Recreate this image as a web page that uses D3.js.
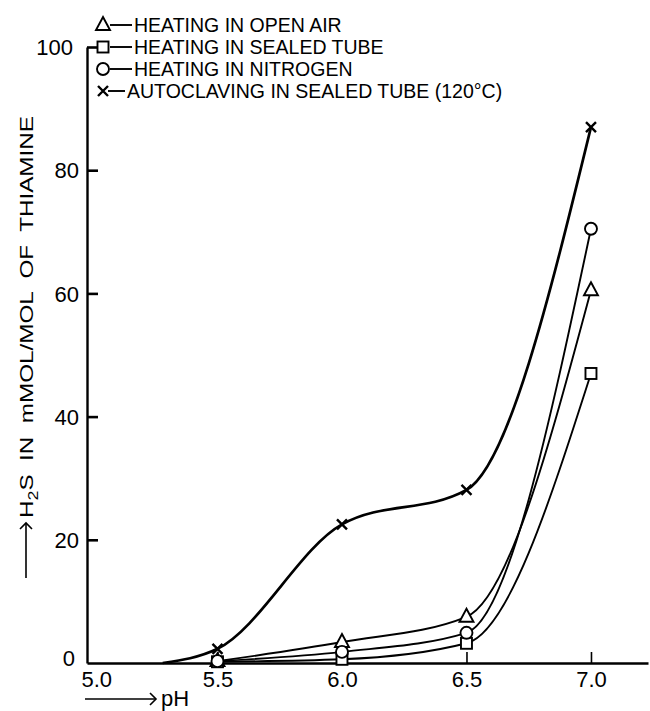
<!DOCTYPE html>
<html>
<head>
<meta charset="utf-8">
<script src="https://cdn.jsdelivr.net/npm/d3@7"></script>
<style>
  html, body { margin: 0; padding: 0; background: #fff; }
  svg { display: block; }
  text { font-family: "Liberation Sans", Arial, sans-serif; fill: #000; }
</style>
</head>
<body>
<div id="chart"></div>
<script>
// ---- data ----
const pH = [5.5, 6.0, 6.5, 7.0];
const openAir    = [0.3, 3.4, 7.5, 60.5];
const sealedTube = [0.2, 0.6, 3.2, 47.0];
const nitrogen   = [0.3, 1.8, 4.9, 70.5];
const autoclavePH = [5.28, 5.5, 6.0, 6.5, 7.0];
const autoclave   = [0.0, 2.3, 22.5, 28.1, 87.0];

const xTicks = [5.0, 5.5, 6.0, 6.5, 7.0];
const xTickLabels = ["5.0", "5.5", "6.0", "6.5", "7.0"];
const yTicks = [0, 20, 40, 60, 80, 100];
const yTickLabels = ["0", "20", "40", "60", "80", "100"];

const legendLabels = [
  "HEATING IN OPEN AIR",
  "HEATING IN SEALED TUBE",
  "HEATING IN NITROGEN",
  "AUTOCLAVING IN SEALED TUBE (120°C)"
];
const legendSymbols = ["triangle", "square", "circle", "cross"];

// ---- layout ----
const W = 650, H = 711;
const svg = d3.select("#chart").append("svg").attr("width", W).attr("height", H);

const axisX0 = 87, axisY0 = 663;
const x = d3.scaleLinear().domain([4.976, 7.229]).range([87, 648]);
const y = d3.scaleLinear().domain([0, 100]).range([663, 47]);

// ---- axes ----
const yAxis = d3.axisLeft(y)
  .tickValues(yTicks)
  .tickFormat((d, i) => yTickLabels[i])
  .tickSizeInner(-11).tickSizeOuter(0).tickPadding(8);
const gy = svg.append("g").attr("transform", `translate(${axisX0},0)`).call(yAxis);
gy.select(".domain").attr("stroke", "#000").attr("stroke-width", 2.4);
gy.selectAll(".tick line").attr("stroke", "#000").attr("stroke-width", 2.6)
  .style("display", d => d === 0 ? "none" : null);
gy.selectAll(".tick text").attr("font-size", 22).attr("font-family", "Liberation Sans, Arial, sans-serif")
  .attr("dy", d => d === 0 ? "0.1em" : "0.35em")
  .attr("x", d => d === 0 ? -12 : (d === 100 ? -14 : -8));

const xAxis = d3.axisBottom(x)
  .tickValues(xTicks)
  .tickFormat((d, i) => xTickLabels[i])
  .tickSizeInner(-11).tickSizeOuter(0).tickPadding(8);
const gx = svg.append("g").attr("transform", `translate(0,${axisY0})`).call(xAxis);
gx.select(".domain").attr("stroke", "#000").attr("stroke-width", 2.4);
gx.selectAll(".tick line").attr("stroke", "#000").attr("stroke-width", 1.6)
  .style("display", d => d === 5.0 ? "none" : null);
gx.selectAll(".tick text").attr("font-size", 22).attr("font-family", "Liberation Sans, Arial, sans-serif")
  .attr("dx", d => d === 5.0 ? "0.15em" : 0);

// ---- axis titles ----
function arrowHead(g, x0, y0, dir) {
  const s = 6;
  let p;
  if (dir === "right") p = `M${x0 - s},${y0 - s} L${x0},${y0} L${x0 - s},${y0 + s}`;
  else p = `M${x0 - s},${y0 + s} L${x0},${y0} L${x0 + s},${y0 + s}`;
  g.append("path").attr("d", p).attr("fill", "none").attr("stroke", "#000").attr("stroke-width", 1.6);
}
const tX = svg.append("g");
tX.append("line").attr("x1", 85).attr("x2", 155).attr("y1", 699).attr("y2", 699)
  .attr("stroke", "#000").attr("stroke-width", 1.6);
arrowHead(tX, 156, 699, "right");
tX.append("text").attr("x", 161).attr("y", 706).attr("font-size", 22).text("pH");

const tY = svg.append("g");
tY.append("line").attr("x1", 26).attr("x2", 26).attr("y1", 578).attr("y2", 524)
  .attr("stroke", "#000").attr("stroke-width", 1.6);
arrowHead(tY, 26, 523, "up");
const yt = tY.append("text")
  .attr("transform", "translate(33,518) rotate(-90)")
  .attr("font-size", 19)
  .style("white-space", "pre")
  .attr("textLength", 402).attr("lengthAdjust", "spacingAndGlyphs");
yt.append("tspan").text("H");
yt.append("tspan").attr("font-size", 14).attr("dy", 5).text("2");
yt.append("tspan").attr("dy", -5).text("S  IN  mMOL/MOL  OF  THIAMINE");

// ---- series ----
const series = [
  { name: legendLabels[0], sym: "triangle", xs: pH, ys: openAir, w: 1.9 },
  { name: legendLabels[1], sym: "square", xs: pH, ys: sealedTube, w: 1.9 },
  { name: legendLabels[2], sym: "circle", xs: pH, ys: nitrogen, w: 1.9 },
  { name: legendLabels[3], sym: "cross", xs: autoclavePH, ys: autoclave, w: 2.7 }
];

const line = d3.line().x(d => x(d[0])).y(d => y(d[1])).curve(d3.curveMonotoneX);

const gLines = svg.append("g");
series.forEach(s => {
  const pts = s.xs.map((v, i) => [v, s.ys[i]]);
  gLines.append("path").attr("d", line(pts)).attr("fill", "none")
    .attr("stroke", "#000").attr("stroke-width", s.w).attr("stroke-linejoin", "round");
});

function drawSymbol(g, sym, cx, cy) {
  if (sym === "triangle") {
    g.append("path").attr("d", `M${cx},${cy - 8} L${cx + 7},${cy + 5} L${cx - 7},${cy + 5} Z`)
      .attr("fill", "#fff").attr("stroke", "#000").attr("stroke-width", 1.9);
  } else if (sym === "square") {
    g.append("rect").attr("x", cx - 5.5).attr("y", cy - 5.5).attr("width", 11).attr("height", 11)
      .attr("fill", "#fff").attr("stroke", "#000").attr("stroke-width", 1.9);
  } else if (sym === "circle") {
    g.append("circle").attr("cx", cx).attr("cy", cy).attr("r", 6)
      .attr("fill", "#fff").attr("stroke", "#000").attr("stroke-width", 1.9);
  } else {
    g.append("path").attr("d", `M${cx - 5},${cy - 5} L${cx + 5},${cy + 5} M${cx - 5},${cy + 5} L${cx + 5},${cy - 5}`)
      .attr("stroke", "#000").attr("stroke-width", 2.4);
  }
}

const gMarks = svg.append("g");
series.forEach(s => {
  s.xs.forEach((v, i) => {
    if (pH.indexOf(v) < 0) return; // start point of curve has no marker
    drawSymbol(gMarks, s.sym, x(v), y(s.ys[i]));
  });
});

// ---- legend ----
const gL = svg.append("g");
legendLabels.forEach((lab, i) => {
  const cy = 25 + i * 22;
  const isCross = legendSymbols[i] === "cross";
  drawSymbol(gL, legendSymbols[i], 103, cy);
  gL.append("line").attr("x1", isCross ? 108 : 110).attr("x2", isCross ? 125 : 132)
    .attr("y1", cy).attr("y2", cy).attr("stroke", "#000").attr("stroke-width", 1.9);
  gL.append("text").attr("x", isCross ? 127 : 134).attr("y", cy + 7)
    .attr("font-size", 19.5).text(lab);
});
</script>
</body>
</html>
